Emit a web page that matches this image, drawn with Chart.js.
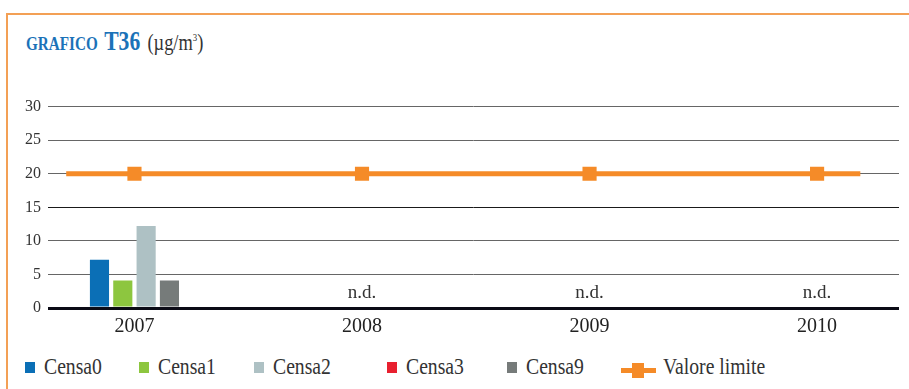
<!DOCTYPE html>
<html>
<head>
<meta charset="utf-8">
<title>Grafico T36</title>
<script src="https://cdn.jsdelivr.net/npm/chart.js@4.4.0/dist/chart.umd.min.js"></script>
<style>
    html, body { margin: 0; padding: 0; background: #fff; }
    body {
        width: 909px; height: 389px; position: relative; overflow: hidden;
        font-family: "Liberation Serif", "Times New Roman", serif; color: #333;
    }
    .frame-top { position: absolute; left: 6px; top: 13px; right: 0; height: 2px; background: #f3a055; }
    .frame-left { position: absolute; left: 6px; top: 13px; bottom: 0; width: 2px; background: #f3a055; }

    .title {
        position: absolute; left: 26px; top: 26px;
        display: flex; align-items: baseline; white-space: nowrap;
        transform: scaleX(0.8); transform-origin: left top;
    }
    .title .lab { font-size: 19px; font-weight: bold; color: #1b72b8; }
    .title .code { font-size: 27px; font-weight: bold; color: #1b72b8; margin-left: 8px; }
    .title .unit { font-size: 23px; color: #333; margin-left: 9px; }
    .title sup { font-size: 11px; }

    #chart-box { position: absolute; left: 0; top: 90px; width: 909px; height: 257px; }

    .leg-mark { position: absolute; top: 362px; width: 10px; height: 11px; }
    .leg-text {
        position: absolute; top: 354px; font-size: 24px; line-height: 24px; color: #333;
        white-space: nowrap; transform: scaleX(0.82); transform-origin: left top;
    }
    .leg-line { position: absolute; top: 368px; width: 35px; height: 5px; }
    .leg-square { position: absolute; top: 363px; width: 12px; height: 15px; }
</style>
</head>
<body>
<div class="frame-top"></div>
<div class="frame-left"></div>

<div class="title">
    <span class="lab">GRAFICO</span>
    <span class="code">T36</span>
    <span class="unit">(µg/m<sup>3</sup>)</span>
</div>

<div id="chart-box"><canvas id="t36Chart" width="909" height="257"></canvas></div>
<div id="legend"></div>

<script>
// --- data ---
const years = [2007, 2008, 2009, 2010];
const censa0 = [7.2, null, null, null];
const censa1 = [4.1, null, null, null];
const censa2 = [12.2, null, null, null];
const censa3 = [null, null, null, null];
const censa9 = [4.1, null, null, null];
const valoreLimite = [20, 20, 20, 20];

const yTicks = [0, 5, 10, 15, 20, 25, 30];
const naLabel = 'n.d.';

// --- styles ---
const barSeries = [
    { label: 'Censa0', data: censa0, color: '#0b6fb6' },
    { label: 'Censa1', data: censa1, color: '#8dc63f' },
    { label: 'Censa2', data: censa2, color: '#aec1c4' },
    { label: 'Censa3', data: censa3, color: '#e8202f' },
    { label: 'Censa9', data: censa9, color: '#767b7a' }
];
const limitColor = '#f58b28';
const legendLeft = [25, 139, 254, 387, 507];
const limitLegendLeft = 621;

/**
 * Limit line, stretched a little past the first and last year
 */
const limitLinePlugin = {
    id: 'limitLine',
    beforeDatasetsDraw(chart) {
        const { ctx, scales: { x, y } } = chart;
        const yPix = y.getPixelForValue(valoreLimite[0]);
        ctx.save();
        ctx.strokeStyle = limitColor;
        ctx.lineWidth = 5;
        ctx.beginPath();
        ctx.moveTo(x.getPixelForValue(years[0] - 0.3), yPix);
        ctx.lineTo(x.getPixelForValue(years[years.length - 1] + 0.19), yPix);
        ctx.stroke();
        ctx.restore();
    }
};

/**
 * "n.d." where no station has a value
 */
const noDataPlugin = {
    id: 'noData',
    afterDatasetsDraw(chart) {
        const { ctx, scales: { x, y } } = chart;
        ctx.save();
        ctx.font = '19px "Liberation Serif"';
        ctx.fillStyle = '#333';
        ctx.textAlign = 'center';
        ctx.textBaseline = 'alphabetic';
        years.forEach((yr, i) => {
            const empty = barSeries.every(s => s.data[i] === null);
            if (empty) ctx.fillText(naLabel, x.getPixelForValue(yr), y.getPixelForValue(0) - 10);
        });
        ctx.restore();
    }
};

const datasets = barSeries.map(s => ({
    type: 'bar',
    label: s.label,
    data: years.map((yr, i) => ({ x: yr, y: s.data[i] })),
    backgroundColor: s.color,
    borderWidth: 0,
    skipNull: true,
    categoryPercentage: 0.41,
    barPercentage: 0.82,
    order: 1
}));

datasets.push({
    type: 'line',
    label: 'Valore limite',
    data: years.map((yr, i) => ({ x: yr, y: valoreLimite[i] })),
    borderColor: limitColor,
    backgroundColor: limitColor,
    showLine: false,
    pointStyle: 'rect',
    pointRadius: 10,
    pointBorderWidth: 0,
    order: 0
});

new Chart(document.getElementById('t36Chart'), {
    data: { datasets: datasets },
    plugins: [limitLinePlugin, noDataPlugin],
    options: {
        responsive: false,
        animation: false,
        layout: { padding: { top: 10, right: 9, left: 0, bottom: 0 } },
        plugins: {
            legend: { display: false },
            tooltip: { enabled: false }
        },
        scales: {
            x: {
                type: 'linear',
                bounds: 'data',
                offset: false,
                min: 2006.62,
                max: 2010.36,
                afterBuildTicks: s => { s.ticks = years.map(v => ({ value: v })); },
                grid: { display: false, drawTicks: false, offset: false },
                border: { display: false },
                ticks: {
                    padding: 7,
                    color: '#222',
                    font: { family: 'Liberation Serif', size: 20 },
                    callback: v => String(v)
                },
                afterFit: s => { s.height = 39; }
            },
            y: {
                min: yTicks[0],
                max: yTicks[yTicks.length - 1],
                afterBuildTicks: s => { s.ticks = yTicks.map(v => ({ value: v })); },
                grid: {
                    drawTicks: false,
                    color: c => c.tick.value === 0 ? '#0b0b16' : (c.tick.value === 15 ? '#1a1a1a' : '#666'),
                    lineWidth: c => c.tick.value === 0 ? 3 : 1
                },
                border: { display: false },
                ticks: {
                    padding: 7,
                    color: '#333',
                    font: { family: 'Liberation Serif', size: 16 }
                },
                afterFit: s => { s.width = 48; }
            }
        }
    }
});

// HTML legend
const legend = document.getElementById('legend');
barSeries.forEach((s, i) => {
    const left = legendLeft[i];
    legend.insertAdjacentHTML('beforeend',
        `<div class="leg-mark" style="left:${left}px; background:${s.color};"></div>` +
        `<div class="leg-text" style="left:${left + 19}px;">${s.label}</div>`);
});
legend.insertAdjacentHTML('beforeend',
    `<div class="leg-line" style="left:${limitLegendLeft}px; background:${limitColor};"></div>` +
    `<div class="leg-square" style="left:${limitLegendLeft + 11}px; background:${limitColor};"></div>` +
    `<div class="leg-text" style="left:${limitLegendLeft + 42}px;">Valore limite</div>`);
</script>
</body>
</html>
